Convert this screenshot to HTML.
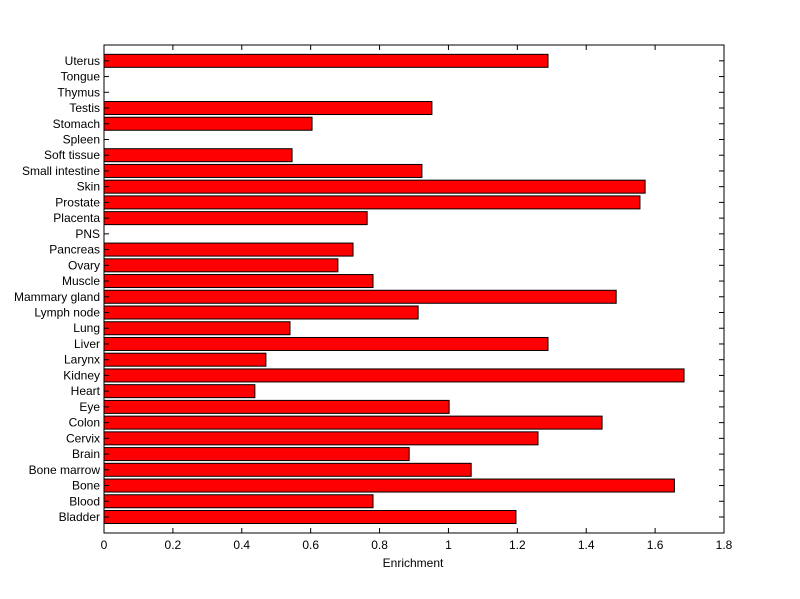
<!DOCTYPE html>
<html><head><meta charset="utf-8"><style>
html,body{margin:0;padding:0;background:#fff;}
svg{display:block;}
text{font-family:"Liberation Sans",sans-serif;font-size:12px;fill:#000;}
</style></head><body>
<svg id="s" width="800" height="599" xmlns="http://www.w3.org/2000/svg"></svg>
<script>
const s=document.getElementById('s');
const names=["Bladder","Blood","Bone","Bone marrow","Brain","Cervix","Colon","Eye","Heart","Kidney","Larynx","Liver","Lung","Lymph node","Mammary gland","Muscle","Ovary","Pancreas","PNS","Placenta","Prostate","Skin","Small intestine","Soft tissue","Spleen","Stomach","Testis","Thymus","Tongue","Uterus"];
const vals=[1.196,0.781,1.656,1.066,0.886,1.26,1.446,1.002,0.438,1.684,0.470,1.289,0.540,0.912,1.487,0.781,0.679,0.723,0,0.764,1.556,1.571,0.923,0.546,0,0.604,0.952,0,0,1.289];
const L=104,R=724,T=45,B=533,k=(R-L)/1.8;
let h='';
const yc=i=>517-i*15.73;
for(let i=0;i<30;i++){
  const y=yc(i);
  if(vals[i]>0) h+=`<rect x="${L}" y="${y-6.5}" width="${vals[i]*k}" height="13" fill="#ff0000" stroke="#000" stroke-width="1"/>`;
  h+=`<line x1="${L}" x2="${L+5}" y1="${y}" y2="${y}" stroke="#000"/><line x1="${R}" x2="${R-5}" y1="${y}" y2="${y}" stroke="#000"/>`;
  h+=`<text x="100" y="${y+4}" text-anchor="end">${names[i]}</text>`;
}
for(let j=0;j<=9;j++){
  const x=L+j*0.2*k;
  h+=`<line x1="${x}" x2="${x}" y1="${B}" y2="${B-5}" stroke="#000"/><line x1="${x}" x2="${x}" y1="${T}" y2="${T+5}" stroke="#000"/>`;
  const lab=j==0?"0":j==5?"1":(j*0.2).toFixed(1);
  h+=`<text x="${x}" y="549" text-anchor="middle">${lab}</text>`;
}
h+=`<rect x="${L}" y="${T}" width="${R-L}" height="${B-T}" fill="none" stroke="#000" stroke-width="1"/>`;
h+=`<text x="413" y="567" text-anchor="middle">Enrichment</text>`;
s.innerHTML=h;
</script>
</body></html>
